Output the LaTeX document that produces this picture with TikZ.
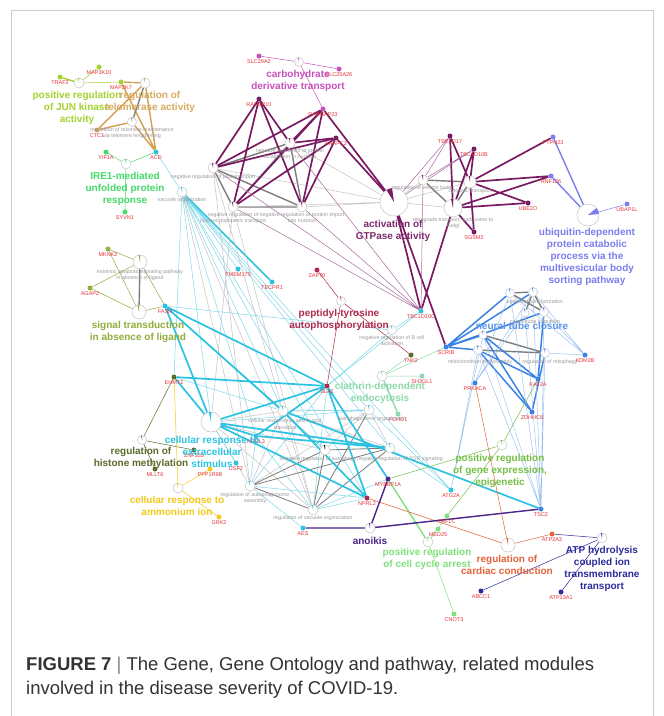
\documentclass[tikz,border=0pt]{standalone}
\usepackage{fontspec}
\setmainfont{Liberation Sans}
\newfontfamily\capfont{Liberation Sans}
\usetikzlibrary{calc}
\pgfdeclarelayer{back}
\pgfdeclarelayer{bg}
\pgfsetlayers{back,bg,main}
\definecolor{cYG}{HTML}{A5D22F}
\definecolor{cTan}{HTML}{D4A050}
\definecolor{cGr}{HTML}{45DA6A}
\definecolor{cCy}{HTML}{2CC3E3}
\definecolor{cCyL}{HTML}{74D5EA}
\definecolor{cPu}{HTML}{7A1A62}
\definecolor{cPuL}{HTML}{A66AA0}
\definecolor{cOr}{HTML}{C850BC}
\definecolor{cUb}{HTML}{7D7DF0}
\definecolor{cOl}{HTML}{92AE3C}
\definecolor{cPep}{HTML}{B02A4C}
\definecolor{cClat}{HTML}{8DDAAA}
\definecolor{cBl}{HTML}{3B82E6}
\definecolor{cBlL}{HTML}{9ABEF0}
\definecolor{cEpi}{HTML}{74C046}
\definecolor{cHis}{HTML}{5B6B2B}
\definecolor{cAmm}{HTML}{F5C81C}
\definecolor{cAno}{HTML}{4A2488}
\definecolor{cCC}{HTML}{80E27E}
\definecolor{cCard}{HTML}{E2643A}
\definecolor{cATP}{HTML}{2B2B9C}
\definecolor{cGTP}{HTML}{7E2A6C}
\definecolor{gred}{HTML}{E8323A}
\definecolor{tgray}{HTML}{9A9A9A}
\definecolor{ringg}{HTML}{C4C4C4}
\definecolor{gthick}{HTML}{7C7C7C}
\definecolor{gthin}{HTML}{C2C2C2}
\definecolor{capt}{HTML}{333333}
\newcommand\wdg[4]{\fill[#2] (#1.center) -- ++(#3:#4) arc[start angle=#3, end angle=#3+14, radius=#4] -- cycle;}
\tikzset{
  gene/.style={circle,inner sep=0pt,minimum size=5pt,fill=#1,label distance=0.3pt},
  gl/.style={font=\fontsize{5.5}{6}\selectfont,text=gred,inner sep=0.5pt},
  term/.style={circle,draw=ringg,line width=0.5pt,fill=white,inner sep=0pt,minimum size=#1},
  tl/.style={font=\fontsize{5.3}{6.2}\selectfont,text=tgray,align=center,inner sep=0.5pt},
  big/.style={font=\bfseries\fontsize{10}{12.2}\selectfont,align=center,inner sep=0pt},
  ln/.style={draw=#1,line width=0.5pt},
  lk/.style={draw=#1,line width=1.4pt},
  pk/.style={draw=cPu,line width=1.7pt},
  pn/.style={draw=cPuL,line width=0.5pt},
  gk/.style={draw=gthick,line width=1.4pt},
  gm/.style={draw=gthick,line width=0.8pt},
  gn/.style={draw=gthin,line width=0.5pt},
  ck/.style={draw=cCy,line width=1.7pt},
  cn/.style={draw=cCyL,line width=0.45pt},
  bk/.style={draw=cBl,line width=1.5pt},
  bn/.style={draw=cBlL,line width=0.45pt},
}
\begin{document}
\begin{tikzpicture}[x=1pt,y=-1pt]
\useasboundingbox (0,0) rectangle (664,716);
\begin{pgfonlayer}{back}
\fill[white] (0,0) rectangle (664,716);
\draw[gray!40,line width=0.8pt] (11,720) -- (11,10) -- (653,10) -- (653,720);
\end{pgfonlayer}

% ---------- top left ----------
\node[gene=cYG,label={[gl]below:TRAF2}] (TRAF2) at (60,77) {};
\node[gene=cYG,label={[gl]below:MAP3K10}] (MAP3K10) at (99,67) {};
\node[gene=cYG,label={[gl]below:MAP2K7}] (MAP2K7) at (121,82) {};
\node[gene=cTan,label={[gl]below:CTC1}] (CTC1) at (97,130) {};
\node[gene=cCy,label={[gl]below:ACD}] (ACD) at (156,152) {};
\node[term=10pt] (tJUN) at (79,83) {};
\node[term=10pt] (tTelo) at (145,83) {};
\node[term=9pt,label={[tl]below:regulation of telomere maintenance\\via telomere lengthening}] (tTeloM) at (132,122) {};
\node[gene=cGr,label={[gl]below:YIF1A}] (YIF1A) at (106,152) {};
\node[term=10pt] (tIRE) at (126,164) {};
\node[gene=cGr,label={[gl]below:SYVN1}] (SYVN1) at (125,212) {};
\node[term=10pt,label={[tl]below:vacuole organization}] (tVac) at (182,192) {};

% ---------- purple cluster ----------
\node[gene=cOr,label={[gl]below:SLC29A2}] (SLC29A2) at (259,56) {};
\node[term=9pt] (tCarb) at (299,62) {};
\node[gene=cOr,label={[gl]below:SLC25A26}] (SLC25A26) at (339,69) {};
\node[gene=cPu,label={[gl]below:RANBP10}] (P1) at (259,99) {};
\node[gene=cOr,label={[gl]below:RABGAP23}] (R23) at (323,109) {};
\node[gene=cPu,label={[gl]below:ANAPC2}] (AN) at (336,138) {};
\node[term=10pt] (tImp) at (213,168) {};
\node[tl] (tImpT) at (213,177) {negative regulation of protein import};
\node[term=10pt,label={[tl]below:negative regulation of protein\\localization to nucleus}] (tLoc) at (290,143) {};
\node[term=10pt,label={[tl]below:negative regulation of\\nucleocytoplasmic transport}] (tNct) at (233,207) {};
\node[term=10pt,label={[tl]below:negative regulation of protein import\\into nucleus}] (tImpN) at (302,207) {};
\node[term=28pt] (tGTP) at (394,202) {};
\node[term=10pt,label={[tl]below:regulation of vesicle fusion}] (tVF) at (423,180) {};
\node[term=12pt,label={[tl]below:cytosolic transport}] (tCyt) at (470,182) {};
\node[term=18pt,label={[tl]below:{retrograde transport, endosome to\\Golgi}}] (tRet) at (453,208) {};
\node[gene=cPu,label={[gl]below:TBC1D17}] (TBC1D17) at (450,136) {};
\node[gene=cPu,label={[gl]below:TBC1D10B}] (TBC1D10B) at (474,149) {};
\node[gene=cPu,label={[gl]below:SGSM2}] (SGSM2) at (474,232) {};
\node[gene=cPu,label={[gl]below:UBE2O}] (UBE2O) at (528,203) {};
\node[gene=cUb,label={[gl]below:RNF126}] (RNF126) at (551,176) {};
\node[gene=cUb,label={[gl]below:PTPN23}] (PTPN23) at (553,137) {};
\node[gene=cUb,label={[gl]below:UBAP1L}] (UBAP1L) at (627,204) {};
\node[term=22pt] (tUb) at (588,215) {};

% ---------- middle ----------
\node[gene=cOl,label={[gl]below:MKNK2}] (MKNK2) at (108,249) {};
\node[term=14pt,label={[tl]below:extrinsic apoptotic signaling pathway\\in absence of ligand}] (tExt) at (140,262) {};
\node[gene=cOl,label={[gl]below:AGAP2}] (AGAP2) at (90,288) {};
\node[term=14pt] (tSig) at (139,312) {};
\node[gene=cCy,label={[gl]below:FASN}] (FASN) at (165,306) {};
\node[gene=cCy,label={[gl]below:TMEM175}] (TMEM175) at (238,269) {};
\node[gene=cCy,label={[gl]below:TECPR1}] (TECPR1) at (272,282) {};
\node[gene=cPep,label={[gl]below:ZAP70}] (ZAP70) at (317,270) {};
\node[term=9pt] (tPep) at (341,301) {};
\node[gene=cPep,label={[gl]below:SLA2}] (SLA2) at (327,386) {};
\node[term=9pt,label={[tl]below:negative regulation of B cell\\activation}] (tBc) at (392,330) {};
\node[gene=cHis,label={[gl]below:TNK2}] (TNK2) at (411,355) {};
\node[term=10pt] (tClat) at (382,376) {};
\node[gene=cClat,label={[gl]below:SH3GL1}] (SH3GL1) at (422,376) {};
\node[gene=cClat,label={[gl]below:FCHO1}] (FCHO1) at (398,414) {};
\node[gene=cCy,label={[gl]below:TBC1D10C}] (TBC1D10C) at (421,311) {};
\node[gene=cBl,label={[gl]below:SCRIB}] (SCRIB) at (446,347) {};

% ---------- neural tube ----------
\node[term=9pt] (tN1) at (510,293) {};
\node[term=9pt] (tN2) at (533,292) {};
\node[term=9pt] (tN3) at (544,312) {};
\node[term=8pt] (tN4) at (525,313) {};
\node[tl] (tN12T) at (535,302) {epithelial tube formation};
\node[tl] (tN34T) at (535,322) {neural tube formation};
\node[term=8pt] (tN5) at (483,335) {};
\node[term=9pt] (tN6) at (478,350) {};
\node[term=9pt] (tN7) at (545,353) {};
\node[tl] (tN6T) at (480,362) {mitochondrion disassembly};
\node[tl] (tN7T) at (550,362) {regulation of mitophagy};
\node[gene=cBl,label={[gl]below:KDM2B}] (KDM2B) at (585,355) {};
\node[gene=cBl,label={[gl]below:PRKACA}] (PRKACA) at (475,383) {};
\node[gene=cBl,label={[gl]below:KAT2A}] (KAT2A) at (538,379) {};
\node[gene=cBl,label={[gl]below:ZDHHC8}] (ZDHHC8) at (532,412) {};

% ---------- lower left ----------
\node[gene=cHis,label={[gl]below:EHMT2}] (EHMT2) at (174,377) {};
\node[term=9pt] (tHis) at (142,440) {};
\node[gene=cHis,label={[gl]below:ZNF335}] (ZNF335) at (194,450) {};
\node[gene=cHis,label={[gl]below:MLLT6}] (MLLT6) at (155,469) {};
\node[term=10pt] (tAmm) at (178,488) {};
\node[gene=cAmm,label={[gl]below:PPP1R9B}] (PPP1R9B) at (210,469) {};
\node[gene=cCy,label={[gl]below:USF2}] (USF2) at (236,463) {};
\node[gene=cAmm,label={[gl]below:GRK2}] (GRK2) at (219,517) {};
\node[term=20pt] (tCell) at (211,422) {};
\node[gene=cCy,label={[gl]below:NPRL3}] (NPRL3) at (256,436) {};

% ---------- centre autophagy ----------
\node[term=10pt] (tStarv) at (283,411) {};
\node[tl] (tStarvT) at (285,424) {cellular response to amino acid\\starvation};
\node[term=10pt] (tAutoOrg) at (369,410) {};
\node[tl] (tAutoOrgT) at (372,419) {autophagosome organization};
\node[term=10pt] (tNegAuto) at (325,450) {};
\node[tl] (tNegAutoT) at (318,459) {negative regulation of autophagy};
\node[term=10pt] (tTOR) at (390,448) {};
\node[tl] (tTORT) at (400,459) {negative regulation of TOR signaling};
\node[term=10pt] (tAuto) at (250,486) {};
\node[tl] (tAutoT) at (255,498) {regulation of autophagosome\\assembly};
\node[term=10pt,label={[tl]below:regulation of vacuole organization}] (tVacOrg) at (313,510) {};

% ---------- lower right ----------
\node[gene=cPep,label={[gl]below:NPRL2}] (NPRL2) at (367,498) {};
\node[gene=cAno,label={[gl]below:MYBBP1A}] (MYBBP1A) at (388,479) {};
\node[gene=cCy,label={[gl]below:AES}] (AES) at (303,528) {};
\node[term=10pt] (tAno) at (370,528) {};
\node[term=10pt] (tEpi) at (502,445) {};
\node[gene=cCy,label={[gl]below:ATG2A}] (ATG2A) at (451,490) {};
\node[gene=cBl,label={[gl]below:TSC2}] (TSC2) at (541,509) {};
\node[gene=cCC,label={[gl]below:TAF1C}] (TAF1C) at (447,516) {};
\node[gene=cCC,label={[gl]below:MED25}] (MED25) at (438,529) {};
\node[term=10pt] (tCC) at (428,542) {};
\node[gene=cCC,label={[gl]below:CNOT3}] (CNOT3) at (454,614) {};
\node[term=14pt] (tCard) at (508,545) {};
\node[gene=cCard,label={[gl]below:ATP2A3}] (ATP2A3) at (552,534) {};
\node[term=10pt] (tATP) at (602,538) {};
\node[gene=cATP,label={[gl]below:ABCC1}] (ABCC1) at (481,591) {};
\node[gene=cATP,label={[gl]below:ATP13A1}] (ATP13A1) at (561,592) {};

% ---------- edges ----------
\begin{pgfonlayer}{bg}
\draw[lk=cYG] (TRAF2)--(tJUN);
\draw[ln=cYG] (MAP3K10)--(tJUN) (tJUN)--(MAP2K7);
\draw[lk=cTan] (MAP2K7)--(tTelo) (MAP2K7)--(ACD) (tTelo)--(CTC1) (tTelo)--(ACD) (CTC1)--(tTeloM) (tTeloM)--(ACD);
\draw[gk] (tTelo)--(tTeloM);
\draw[ln=cGr] (YIF1A)--(tIRE) (tIRE)--(ACD) (tIRE)--(SYVN1);
\draw[cn] (ACD)--(tVac);
\draw[ln=cOr] (SLC29A2)--(tCarb) (tCarb)--(SLC25A26) (tCarb)--(R23);
% purple nuclear import
\draw[gk] (tImp)--(tNct) (tImp)--(tLoc) (tNct)--(tImpN) (tLoc)--(tImpN) (tNct)--(tLoc) (tImp)--(tImpN);
\draw[gn] (tImp)--(tGTP) (tLoc)--(tGTP) (tImpN)--(tGTP) (tNct)--(tGTP) (tGTP)--(tVF) (tGTP)--(tRet) (tGTP)--(tCyt);
\draw[gk] (tVF)--(tCyt) (tVF)--(tRet) (tCyt)--(tRet);
\foreach \g in {P1,R23,AN}{\foreach \t in {tImp,tLoc,tNct,tImpN}{\draw[pk] (\g)--(\t);}}
\draw[pk] (R23)--(tGTP) (AN)--(tGTP);
\draw[pk] (TBC1D17)--(tRet) (TBC1D17)--(tCyt) (TBC1D10B)--(tRet) (TBC1D10B)--(tCyt) (SGSM2)--(tCyt) (SGSM2)--(tRet)
  (UBE2O)--(tCyt) (UBE2O)--(tRet) (RNF126)--(tCyt) (RNF126)--(tRet) (PTPN23)--(tCyt);
\draw[pn] (TBC1D17)--(tGTP) (TBC1D17)--(tVF) (TBC1D10B)--(tVF) (TBC1D10B)--(tGTP);
\draw[pk] (TBC1D10C)--(tGTP) (TBC1D10C)--(tRet) (SCRIB)--(tGTP);
\draw[pn] (TBC1D10C)--(tImp) (TBC1D10C)--(tNct) (TBC1D10C)--(tImpN) (TBC1D10C)--(tLoc) (TBC1D10C)--(tVF);
\draw[lk=cUb] (PTPN23)--(tUb) (RNF126)--(tUb);
\draw[ln=cUb] (tUb)--(UBAP1L);
% signal transduction
\draw[ln=cOl] (MKNK2)--(tExt) (MKNK2)--(tSig) (AGAP2)--(tExt) (AGAP2)--(tSig) (tExt)--(FASN) (tSig)--(FASN);
\draw[gk] (tExt)--(tSig);
% vacuole fan
\draw[ck] (tVac)--(TECPR1);
\draw[cn] (tVac)--(TMEM175) (tVac)--(tCell) (tVac)--(tStarv) (tVac)--(tNegAuto) (tVac)--(tTOR) (tVac)--(NPRL3)
  (tVac)--(NPRL2) (tVac)--(ATG2A) (tVac)--(EHMT2) (tVac)--(tAutoOrg);
\draw[gn] (tVac)--(tAuto) (tVac)--(tVacOrg) (tImp)--(tAuto) (tNct)--(tCell) (tNct)--(tVacOrg) (tImp)--(tStarv);
% centre
\draw[gn] (tAuto)--(tStarv) (tAuto)--(tAutoOrg) (tVacOrg)--(tStarv) (tStarv)--(tAutoOrg) (tStarv)--(tTOR)
  (tNegAuto)--(tAutoOrg) (tStarv)--(tNegAuto) (tCell)--(tStarv) (tCell)--(tAuto) (tCell)--(tVacOrg) (tAutoOrg)--(tTOR)
  (tCell)--(tNegAuto) (tStarv)--(tVacOrg);
\draw[gm] (tAuto)--(tVacOrg) (tNegAuto)--(tVacOrg) (tNegAuto)--(tTOR) (tAuto)--(tNegAuto) (tAuto)--(tTOR)
  (tVacOrg)--(tAutoOrg) (tVacOrg)--(tTOR);
\draw[cn] (SLA2)--(tAuto) (SLA2)--(tVacOrg) (NPRL3)--(tVacOrg) (NPRL2)--(tAuto) (tCell)--(tAutoOrg) (USF2)--(tCell)
  (tAuto)--(AES) (tTOR)--(ATG2A) (tAutoOrg)--(ATG2A) (NPRL3)--(tAuto) (EHMT2)--(tStarv) (FASN)--(tNegAuto)
  (SLA2)--(TBC1D10C) (tStarv)--(tAutoOrg) (NPRL2)--(tVacOrg) (MYBBP1A)--(tVacOrg);
\draw[ck] (FASN)--(tCell) (FASN)--(tStarv) (FASN)--(SLA2) (EHMT2)--(tCell) (EHMT2)--(SLA2) (tCell)--(SLA2) (tCell)--(tTOR)
  (tCell)--(NPRL2) (SLA2)--(NPRL3) (SLA2)--(NPRL2) (SLA2)--(MYBBP1A) (tStarv)--(NPRL2) (NPRL3)--(tTOR) (tStarv)--(TSC2)
  (tCell)--(NPRL3);
% peptidyl, B cell, clathrin
\draw[ln=cPep] (ZAP70)--(tPep) (tPep)--(SLA2) (tPep)--(TNK2);
\draw[cn] (FASN)--(tBc) (tBc)--(SLA2) (tBc)--(TBC1D10C);
\draw[ln=cClat] (TNK2)--(tClat) (tClat)--(SH3GL1) (tClat)--(SCRIB);
\draw[lk=cClat] (tClat)--(FCHO1);
% neural tube
\draw[gk] (tN1)--(tN2) (tN1)--(tN3) (tN2)--(tN3) (tN2)--(tN4) (tN5)--(tN7) (tN6)--(tN7);
\draw[bk] (SCRIB)--(tN1) (SCRIB)--(tN2) (SCRIB)--(tN3) (SCRIB)--(tN5) (SCRIB)--(tN6) (tN5)--(KAT2A) (tN5)--(ZDHHC8)
  (tN6)--(KAT2A) (tN6)--(ZDHHC8) (tN3)--(KAT2A) (tN7)--(ZDHHC8);
\draw[bn] (tN1)--(KDM2B) (tN2)--(KDM2B) (tN3)--(KDM2B) (tN1)--(TSC2) (tN2)--(TSC2) (tN3)--(TSC2) (tN4)--(TSC2)
  (tN7)--(TSC2) (tN1)--(PRKACA) (tN2)--(PRKACA) (tN5)--(ATG2A) (tN6)--(ATG2A) (tN5)--(TSC2) (tN6)--(TSC2)
  (tN4)--(PRKACA) (tN7)--(KDM2B);
% lower right
\draw[ln=cEpi] (tEpi)--(KAT2A) (tEpi)--(MYBBP1A) (tEpi)--(TAF1C);
\draw[lk=cCC] (MYBBP1A)--(tCC);
\draw[ln=cCC] (MED25)--(tCC) (TAF1C)--(tCC) (tCC)--(CNOT3);
\draw[ln=cCard] (PRKACA)--(tCard) (NPRL2)--(tCard) (tCard)--(ATP2A3);
\draw[ln=cATP] (ATP2A3)--(tATP) (ABCC1)--(tATP) (ATP13A1)--(tATP);
\draw[lk=cAno] (AES)--(tAno) (tAno)--(MYBBP1A) (tAno)--(TSC2);
\draw[ln=cHis] (EHMT2)--(tHis) (tHis)--(ZNF335) (tHis)--(MLLT6);
\draw[ln=cAmm] (EHMT2)--(tAmm) (tAmm)--(PPP1R9B) (tAmm)--(GRK2);
\end{pgfonlayer}

% ---------- wedges ----------
\wdg{tJUN}{cYG}{88}{5pt}
\wdg{tTelo}{cTan}{88}{5pt}
\wdg{tTeloM}{gthick}{88}{4.5pt}
\wdg{tIRE}{cGr}{88}{5pt}
\wdg{tVac}{cCy}{88}{5pt}
\wdg{tCarb}{cOr}{88}{4.5pt}
\foreach \t in {tImp,tLoc,tNct,tImpN,tVF}{\wdg{\t}{cPu}{88}{5pt}}
\wdg{tCyt}{cPu}{88}{6pt}
\wdg{tRet}{cPu}{88}{9pt}
\fill[cPu] (tGTP.center) -- ++(98:14pt) arc[start angle=98,end angle=122,radius=14pt] -- cycle;
\fill[cUb] (tUb.center) -- ++(5:11pt) arc[start angle=5,end angle=40,radius=11pt] -- cycle;
\wdg{tExt}{cOl}{88}{7pt}
\wdg{tSig}{cOl}{88}{7pt}
\wdg{tPep}{cPep}{88}{4.5pt}
\wdg{tBc}{cCy}{88}{4.5pt}
\wdg{tClat}{cClat}{88}{5pt}
\foreach \t in {tN1,tN2,tN3,tN4,tN5,tN6,tN7}{\wdg{\t}{cBl}{88}{4.5pt}}
\wdg{tHis}{cHis}{88}{4.5pt}
\wdg{tAmm}{cAmm}{88}{5pt}
\wdg{tCell}{cCy}{88}{10pt}
\foreach \t in {tStarv,tAutoOrg,tTOR,tAuto,tVacOrg}{\wdg{\t}{cCy}{88}{5pt}}
\wdg{tNegAuto}{black}{88}{5pt}
\wdg{tEpi}{cEpi}{88}{5pt}
\wdg{tCC}{cCC}{88}{5pt}
\wdg{tCard}{cCard}{88}{7pt}
\wdg{tATP}{cATP}{88}{5pt}
\wdg{tAno}{cAno}{88}{5pt}

% ---------- big labels ----------
\node[big,text=cYG] (lJUN) at (77,108) {positive regulation\\of JUN kinase\\activity};
\node[big,text=cTan!90] (lTelo) at (150,102) {regulation of\\telomerase activity};
\node[big,text=cGr] (lIRE) at (125,189) {IRE1-mediated\\unfolded protein\\response};
\node[big,text=cOr] (lCarb) at (298,81) {carbohydrate\\derivative transport};
\node[big,text=cGTP] (lGTP) at (393,231) {activation of\\GTPase activity};
\node[big,text=cUb] (lUb) at (587,257) {ubiquitin-dependent\\protein catabolic\\process via the\\multivesicular body\\sorting pathway};
\node[big,text=cOl] (lSig) at (138,332) {signal transduction\\in absence of ligand};
\node[big,text=cPep] (lPep) at (339,320) {peptidyl-tyrosine\\autophosphorylation};
\node[big,text=cClat] (lClat) at (380,393) {clathrin-dependent\\endocytosis};
\node[big,text=cBl!85] (lNeu) at (522,326) {neural tube closure};
\node[big,text=cEpi] (lEpi) at (500,471) {positive regulation\\of gene expression,\\epigenetic};
\node[big,text=cCy] (lCell) at (212,452) {cellular response to\\extracellular\\stimulus};
\node[big,text=cHis] (lHis) at (141,458) {regulation of\\histone methylation};
\node[big,text=cAmm] (lAmm) at (177,506) {cellular response to\\ammonium ion};
\node[big,text=cAno] (lAno) at (370,541) {anoikis};
\node[big,text=cCC] (lCC) at (427,559) {positive regulation\\of cell cycle arrest};
\node[big,text=cCard] (lCard) at (507,565) {regulation of\\cardiac conduction};
\node[big,text=cATP] (lATP) at (602,569) {ATP hydrolysis\\coupled ion\\transmembrane\\transport};

% ---------- caption ----------
\node[anchor=north west,align=left,text=capt,inner sep=0pt,font=\capfont\fontsize{18.5}{24}\selectfont] (cap) at (26,657)
  {\textbf{FIGURE 7} {\color{gray}|} The Gene, Gene Ontology and pathway, related modules\\involved in the disease severity of COVID-19.};
\end{tikzpicture}
\end{document}
